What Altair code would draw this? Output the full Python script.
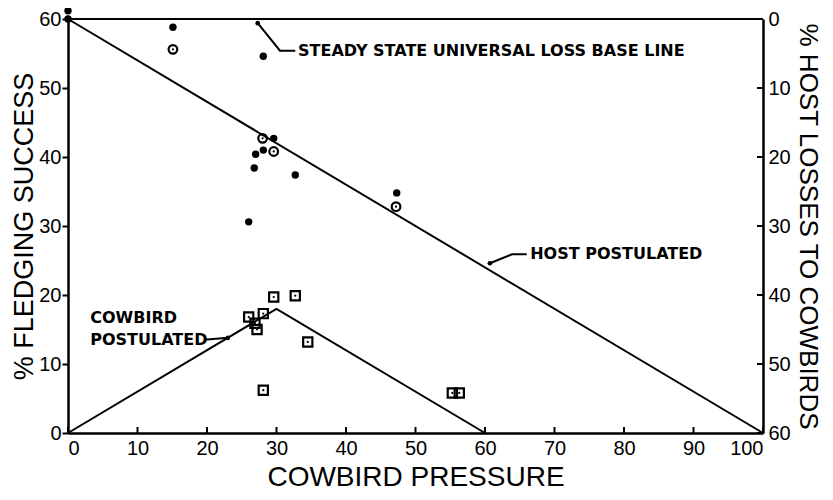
import altair as alt
import pandas as pd

# ---- data ----
host_x = [0, 100]
host_y = [60, 0]
cow_x = [0, 30, 60]
cow_y = [0, 18, 0]
base_x = [0, 100]
base_y = [60, 60]

filled_x = [0, 0, 15.1, 28.1, 29.6, 28.1, 27.0, 26.8, 32.7, 47.3, 26.0]
filled_y = [61.2, 60.0, 58.8, 54.6, 42.7, 41.0, 40.4, 38.4, 37.4, 34.8, 30.6]
open_x = [15.1, 28.0, 29.6, 47.2]
open_y = [55.6, 42.7, 40.8, 32.8]
sq_x = [29.6, 32.7, 26.0, 28.1, 26.9, 27.2, 34.5, 28.1, 55.3, 56.3]
sq_y = [19.7, 19.9, 16.8, 17.3, 15.9, 15.0, 13.2, 6.2, 5.8, 5.8]

x_ticks = [0, 10, 20, 30, 40, 50, 60, 70, 80, 90, 100]
y_ticks = [0, 10, 20, 30, 40, 50, 60]
loss_ticks = [0, 10, 20, 30, 40, 50, 60]

label_text = ["STEADY STATE UNIVERSAL LOSS BASE LINE", "HOST POSTULATED", "COWBIRD", "POSTULATED"]
label_x = [33.1, 66.5, 3.2, 3.2]
label_y = [55.4, 25.9, 16.6, 13.5]

ptr_group = ["a", "a", "a", "b", "b", "b", "c", "c"]
ptr_x = [27.3, 30.5, 32.7, 60.7, 63.9, 66.0, 19.6, 23.0]
ptr_y = [59.4, 55.4, 55.4, 24.6, 25.9, 25.9, 13.5, 13.8]
head_x = [27.3, 60.7, 23.0]
head_y = [59.4, 24.6, 13.8]

W, H = 695, 414
FONT = "Liberation Sans"
ANN_FONT = "DejaVu Sans"

xs = alt.Scale(domain=[0, 100], nice=False)
ys = alt.Scale(domain=[0, 60], nice=False)

lines_df = pd.DataFrame(
    {"x": host_x + cow_x + base_x,
     "y": host_y + cow_y + base_y,
     "g": ["host"] * len(host_x) + ["cow"] * len(cow_x) + ["base"] * len(base_x)}
)
filled_df = pd.DataFrame({"x": filled_x, "y": filled_y})
open_df = pd.DataFrame({"x": open_x, "y": open_y})
sq_df = pd.DataFrame({"x": sq_x, "y": sq_y})
lab_df = pd.DataFrame({"t": label_text, "x": label_x, "y": label_y})
ptr_df = pd.DataFrame({"g": ptr_group, "x": ptr_x, "y": ptr_y})
head_df = pd.DataFrame({"x": head_x, "y": head_y})
xt_df = pd.DataFrame({"x": x_ticks})
lt_df = pd.DataFrame({"v": loss_ticks})

X = alt.X("x:Q", scale=xs, axis=alt.Axis(
    values=x_ticks, ticks=False, grid=False, domainColor="black", domainWidth=2.5,
    labelFont=FONT, labelFontSize=20, labelColor="black", labelPadding=5,
    title="COWBIRD PRESSURE", titleFont=FONT, titleFontSize=28, titleFontWeight="normal",
    titleColor="black", titlePadding=5))
Y = alt.Y("y:Q", scale=ys, axis=alt.Axis(
    values=y_ticks, ticks=True, tickSize=6, tickWidth=2, tickColor="black", grid=False,
    domainColor="black", domainWidth=2.5,
    labelFont=FONT, labelFontSize=20, labelColor="black", labelPadding=1,
    title="% FLEDGING SUCCESS", titleFont=FONT, titleFontSize=27, titleFontWeight="normal",
    titleColor="black", titlePadding=0))

lines = alt.Chart(lines_df).mark_line(color="black", strokeWidth=2, clip=False).encode(
    x=X, y=Y, detail="g:N")
dots = alt.Chart(filled_df).mark_circle(color="black", size=55, opacity=1, clip=False).encode(
    x=alt.X("x:Q", scale=xs), y=alt.Y("y:Q", scale=ys))
rings = alt.Chart(open_df).mark_point(shape="circle", filled=False, color="black",
                                      strokeWidth=2.2, size=75, opacity=1).encode(
    x=alt.X("x:Q", scale=xs), y=alt.Y("y:Q", scale=ys))
ring_c = alt.Chart(open_df).mark_circle(color="black", size=5, opacity=1).encode(
    x=alt.X("x:Q", scale=xs), y=alt.Y("y:Q", scale=ys))
squares = alt.Chart(sq_df).mark_point(shape="square", filled=False, color="black",
                                      strokeWidth=2.2, size=85, opacity=1).encode(
    x=alt.X("x:Q", scale=xs), y=alt.Y("y:Q", scale=ys))
sq_c = alt.Chart(sq_df).mark_circle(color="black", size=5, opacity=1).encode(
    x=alt.X("x:Q", scale=xs), y=alt.Y("y:Q", scale=ys))
labels = alt.Chart(lab_df).mark_text(align="left", baseline="middle", font=ANN_FONT,
                                     fontWeight="bold", fontSize=16, color="black").encode(
    x=alt.X("x:Q", scale=xs), y=alt.Y("y:Q", scale=ys), text="t:N")
ptrs = alt.Chart(ptr_df).mark_line(color="black", strokeWidth=2).encode(
    x=alt.X("x:Q", scale=xs), y=alt.Y("y:Q", scale=ys), detail="g:N")
heads = alt.Chart(head_df).mark_circle(color="black", size=22, opacity=1).encode(
    x=alt.X("x:Q", scale=xs), y=alt.Y("y:Q", scale=ys))
xticks = alt.Chart(xt_df).mark_rule(color="black", strokeWidth=2).encode(
    x=alt.X("x:Q", scale=xs), y=alt.value(H), y2=alt.value(H - 6))

left = alt.layer(lines, ptrs, heads, dots, rings, ring_c, squares, sq_c, labels, xticks)

right = alt.Chart(lt_df).mark_rule(color="black", strokeWidth=2).encode(
    y=alt.Y("v:Q", scale=alt.Scale(domain=[0, 60], reverse=True, nice=False),
            axis=alt.Axis(orient="right", values=loss_ticks, ticks=False, grid=False,
                          domainColor="black", domainWidth=2.5,
                          labelFont=FONT, labelFontSize=20, labelColor="black", labelPadding=5,
                          title="% HOST LOSSES TO COWBIRDS", titleFont=FONT, titleFontSize=26,
                          titleFontWeight="normal", titleColor="black", titlePadding=4)),
    x=alt.value(W - 6), x2=alt.value(W))

chart = alt.layer(left, right).resolve_scale(y="independent").properties(
    width=W, height=H,
    autosize=alt.AutoSizeParams(type="none"),
    padding={"left": 60, "top": 11, "right": 62, "bottom": 59},
).configure_view(stroke=None).configure(background="white")

chart.save("out.html", embed_options={"renderer": "svg", "actions": False})
